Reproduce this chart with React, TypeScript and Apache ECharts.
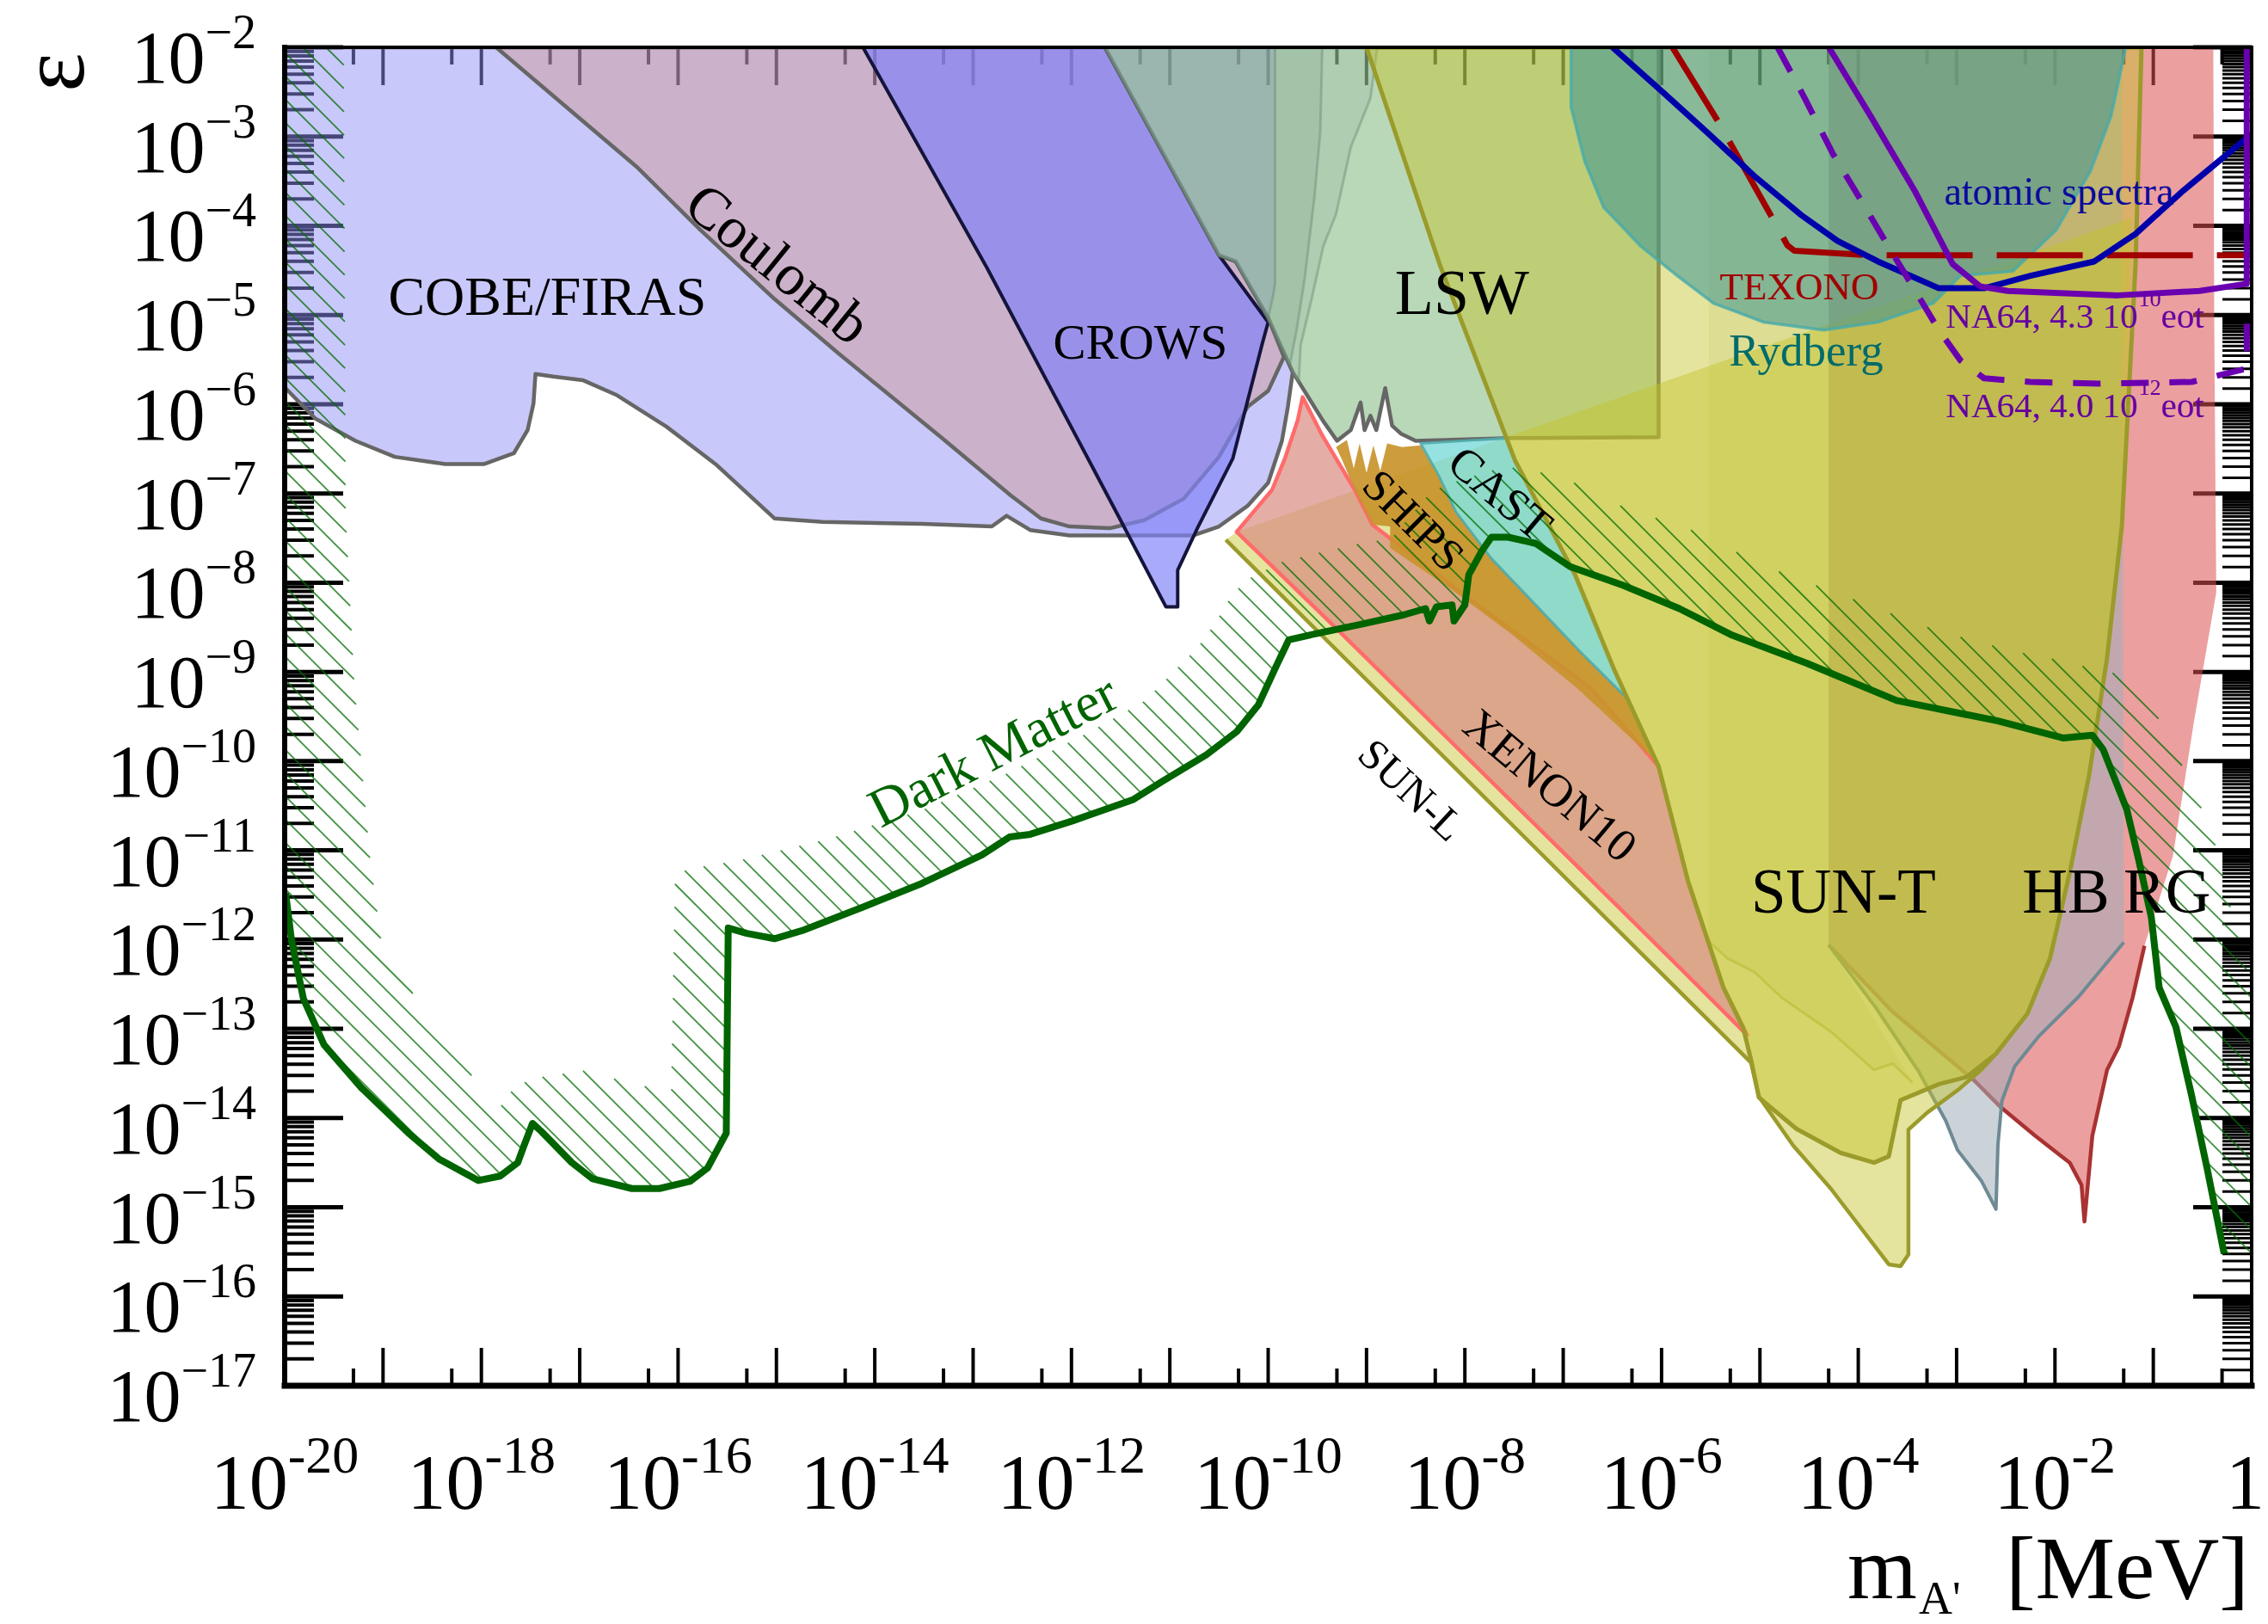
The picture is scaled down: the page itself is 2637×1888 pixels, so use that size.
import React, { useEffect, useRef } from "react";
import * as echarts from "echarts";

type P = [number, number];
const FONT = "Liberation Serif";

// ---------- data: [log10(m_A' / MeV), log10(epsilon)] ----------
const COBE_FIRAS: P[] = [[-20,-2],[-11.66,-2],[-10.50,-4.33],[-10.33,-4.40],[-10.00,-5.03],[-9.75,-5.64],[-9.80,-6.03],[-9.86,-6.41],[-10.00,-6.88],[-10.21,-7.14],[-10.50,-7.37],[-10.76,-7.47],[-12.02,-7.47],[-12.42,-7.41],[-12.66,-7.25],[-12.81,-7.37],[-13.52,-7.34],[-14.53,-7.32],[-15.02,-7.28],[-15.62,-6.67],[-16.12,-6.25],[-16.62,-5.90],[-16.97,-5.73],[-17.27,-5.69],[-17.45,-5.66],[-17.47,-5.99],[-17.53,-6.29],[-17.67,-6.55],[-17.97,-6.67],[-18.37,-6.67],[-18.88,-6.59],[-19.28,-6.41],[-19.69,-6.16],[-20,-5.81]];
const COULOMB: P[] = [[-17.85,-2],[-11.66,-2],[-10.50,-4.33],[-10.33,-4.40],[-10.00,-5.03],[-9.84,-5.47],[-10.00,-5.85],[-10.21,-6.03],[-10.50,-6.59],[-10.86,-7.06],[-11.26,-7.30],[-11.61,-7.39],[-12.02,-7.37],[-12.31,-7.28],[-12.62,-7.02],[-13.37,-6.33],[-14.37,-5.43],[-15.02,-4.82],[-15.77,-4.05],[-16.41,-3.35]];
const CROWS: P[] = [[-14.12,-2],[-12.86,-4.47],[-11.51,-7.28],[-11.04,-8.27],[-10.92,-8.27],[-10.92,-7.86],[-10.72,-7.39],[-10.36,-6.61],[-10.06,-5.32],[-10.00,-5.08],[-10.50,-4.33],[-11.66,-2]];
const LSW: P[] = [[-11.66,-2],[-10.50,-4.33],[-10.33,-4.40],[-10.00,-5.03],[-9.75,-5.64],[-9.44,-6.19],[-9.30,-6.41],[-9.16,-6.29],[-9.06,-5.98],[-9.02,-6.29],[-8.96,-6.13],[-8.90,-6.29],[-8.81,-5.82],[-8.74,-6.24],[-8.65,-6.33],[-8.50,-6.41],[-7.52,-6.38],[-6.03,-6.37],[-6.03,-2]];
const BAND_C: P[] = [[-11.66,-2],[-10.50,-4.33],[-10.33,-4.40],[-10.00,-5.03],[-9.75,-5.64],[-9.69,-5.76],[-9.67,-5.34],[-9.55,-4.78],[-9.44,-4.23],[-9.31,-3.87],[-9.16,-3.12],[-8.96,-2.57],[-8.89,-2]];
const BAND_B: P[] = [[-11.66,-2],[-10.50,-4.33],[-10.33,-4.40],[-10.00,-5.03],[-9.78,-5.56],[-9.71,-5.16],[-9.63,-4.60],[-9.53,-3.68],[-9.47,-2.94],[-9.45,-2]];
const BAND_A: P[] = [[-11.66,-2],[-10.50,-4.33],[-10.33,-4.40],[-10.00,-5.03],[-9.95,-4.79],[-9.93,-4.65],[-9.93,-2]];
const RG: P[] = [[-4.30,-2],[-4.30,-12.06],[-3.66,-12.80],[-2.82,-13.58],[-2.55,-13.88],[-2.20,-14.20],[-1.85,-14.50],[-1.73,-14.75],[-1.70,-15.16],[-1.62,-14.20],[-1.47,-13.46],[-1.35,-13.20],[-1.21,-12.65],[-1.09,-12.07],[-0.80,-11.06],[-0.59,-9.58],[-0.36,-8.11],[-0.38,-5.16],[-0.39,-2]];
const HB: P[] = [[-4.30,-2],[-4.30,-12.06],[-3.83,-12.75],[-3.39,-13.47],[-3.11,-14.03],[-2.99,-14.36],[-2.75,-14.70],[-2.60,-15.02],[-2.58,-14.30],[-2.54,-13.81],[-2.41,-13.42],[-2.17,-13.09],[-1.76,-12.64],[-1.30,-12.03],[-1.32,-2]];
const P_BAND: P[] = [[-5.52,-2],[-5.52,-12.02],[-5.33,-12.21],[-5.06,-12.36],[-4.78,-12.65],[-4.28,-13.03],[-3.84,-13.46],[-3.65,-13.39],[-3.45,-13.60],[-4.30,-12.06],[-4.30,-2]];
const SUN_L: P[] = [[-10.43,-7.52],[-5.09,-13.38],[-5.01,-13.76],[-4.66,-14.31],[-4.28,-14.79],[-3.69,-15.64],[-3.57,-15.66],[-3.49,-15.53],[-3.49,-14.13],[-3.30,-13.94],[-2.98,-13.68],[-2.75,-13.46],[-2.60,-13.28],[-2.28,-12.83],[-2.05,-12.21],[-1.85,-11.25],[-1.65,-10.14],[-1.47,-8.84],[-1.32,-7.37],[-1.22,-3.91],[-10.32,-7.43]];
const XENON10: P[] = [[-9.65,-5.92],[-9.45,-6.35],[-9.12,-6.96],[-8.94,-7.35],[-8.03,-8.12],[-6.72,-9.18],[-6.03,-10.06],[-5.73,-11.35],[-5.37,-12.54],[-5.13,-13.07],[-5.83,-12.30],[-6.81,-11.23],[-7.59,-10.38],[-8.40,-9.50],[-9.30,-8.52],[-10.32,-7.43],[-10.19,-7.26],[-9.96,-6.96],[-9.83,-6.61],[-9.70,-6.18]];
const SHIPS: P[] = [[-9.31,-6.48],[-9.20,-6.40],[-9.13,-6.72],[-9.07,-6.44],[-9.00,-6.77],[-8.93,-6.46],[-8.86,-6.75],[-8.79,-6.44],[-8.64,-6.48],[-8.45,-6.46],[-8.27,-6.79],[-8.09,-7.21],[-7.73,-7.73],[-7.28,-8.25],[-6.84,-8.76],[-6.33,-9.32],[-6.19,-9.66],[-6.06,-10.00],[-6.84,-9.20],[-7.51,-8.59],[-8.13,-8.08],[-8.76,-7.61],[-8.76,-7.37],[-8.94,-7.35],[-9.12,-6.96],[-9.25,-6.62]];
const CAST: P[] = [[-8.45,-6.44],[-7.58,-6.38],[-7.49,-6.63],[-6.88,-7.91],[-6.48,-8.98],[-6.31,-9.41],[-6.33,-9.32],[-6.84,-8.76],[-7.28,-8.25],[-7.73,-7.73],[-8.09,-7.21],[-8.27,-6.79]];
const SUN_T: P[] = [[-9.00,-2],[-8.26,-4.42],[-7.49,-6.63],[-6.88,-7.91],[-6.48,-8.98],[-6.03,-10.06],[-5.73,-11.35],[-5.37,-12.54],[-5.17,-12.99],[-5.09,-13.35],[-5.01,-13.77],[-4.63,-14.12],[-4.18,-14.39],[-3.84,-14.50],[-3.69,-14.43],[-3.57,-13.80],[-3.18,-13.62],[-2.90,-13.54],[-2.60,-13.28],[-2.28,-12.83],[-2.05,-12.21],[-1.85,-11.25],[-1.65,-10.14],[-1.47,-8.84],[-1.32,-7.37],[-1.18,-4.42],[-1.12,-2]];
const RYDBERG: P[] = [[-6.92,-2],[-6.92,-2.67],[-6.78,-3.28],[-6.59,-3.79],[-6.22,-4.22],[-5.84,-4.56],[-5.47,-4.87],[-4.96,-5.08],[-4.35,-5.17],[-3.80,-5.08],[-3.24,-4.87],[-2.96,-4.56],[-2.43,-4.51],[-1.99,-4.05],[-1.64,-3.39],[-1.43,-2.77],[-1.28,-2]];
const TEXONO: P[] = [[-5.89,-2],[-5.42,-2.84],[-4.86,-3.94],[-4.72,-4.22],[-4.65,-4.28],[-3.88,-4.33],[0,-4.33]];
const ATOMIC_SPECTRA: P[] = [[-6.50,-2],[-5.99,-2.50],[-5.52,-2.97],[-5.06,-3.44],[-4.58,-3.88],[-4.21,-4.17],[-3.80,-4.40],[-3.18,-4.70],[-2.72,-4.70],[-2.25,-4.56],[-1.60,-4.40],[-1.18,-4.09],[-0.71,-3.62],[-0.24,-3.19],[0,-2.97]];
const NA64_43E10: P[] = [[-4.30,-2],[-3.88,-2.76],[-3.42,-3.62],[-3.04,-4.43],[-2.76,-4.68],[-2.48,-4.73],[-1.36,-4.78],[-0.53,-4.73],[-0.05,-4.65],[-0.05,-2]];
const NA64_40E12: P[] = [[-4.82,-2],[-4.54,-2.58],[-4.26,-3.19],[-3.98,-3.70],[-3.70,-4.22],[-3.42,-4.73],[-3.18,-5.17],[-2.96,-5.51],[-2.72,-5.71],[-2.25,-5.75],[-1.55,-5.77],[-0.61,-5.75],[-0.05,-5.60],[-0.05,-4.94]];
const DARK_MATTER: P[] = [[-19.99,-11.48],[-19.93,-12.01],[-19.81,-12.66],[-19.60,-13.18],[-19.23,-13.65],[-18.74,-14.17],[-18.43,-14.46],[-18.03,-14.70],[-17.81,-14.65],[-17.63,-14.50],[-17.57,-14.32],[-17.48,-14.06],[-17.39,-14.15],[-17.08,-14.50],[-16.87,-14.68],[-16.47,-14.79],[-16.19,-14.79],[-15.88,-14.71],[-15.70,-14.56],[-15.51,-14.17],[-15.49,-11.87],[-15.30,-11.93],[-15.02,-11.99],[-14.74,-11.90],[-14.13,-11.64],[-13.52,-11.37],[-12.91,-11.05],[-12.63,-10.85],[-12.42,-10.82],[-11.99,-10.67],[-11.37,-10.43],[-11.08,-10.23],[-10.63,-9.93],[-10.32,-9.67],[-10.10,-9.37],[-9.92,-8.94],[-9.79,-8.64],[-9.51,-8.57],[-9.07,-8.47],[-8.62,-8.36],[-8.40,-8.29],[-8.36,-8.43],[-8.29,-8.27],[-8.13,-8.25],[-8.11,-8.43],[-8.00,-8.25],[-7.96,-7.91],[-7.83,-7.65],[-7.73,-7.49],[-7.56,-7.49],[-7.28,-7.56],[-6.93,-7.82],[-6.39,-8.03],[-5.82,-8.29],[-5.28,-8.59],[-4.53,-8.90],[-3.61,-9.32],[-2.58,-9.55],[-1.92,-9.74],[-1.62,-9.71],[-1.51,-9.87],[-1.27,-10.54],[-1.15,-11.10],[-1.02,-11.75],[-0.94,-12.54],[-0.77,-12.98],[-0.61,-13.75],[-0.45,-14.58],[-0.28,-15.52]];
const HATCH_OUTER: P[] = [[-19.40,-2],[-19.38,-7.25],[-19.29,-9.18],[-19.13,-11.11],[-19.00,-12.17],[-18.74,-12.55],[-18.43,-12.94],[-18.18,-13.33],[-18.00,-13.76],[-17.84,-13.92],[-17.65,-13.63],[-17.39,-13.54],[-16.96,-13.47],[-16.51,-13.60],[-16.07,-13.71],[-16.03,-11.26],[-15.85,-11.20],[-15.37,-11.11],[-14.50,-10.88],[-13.52,-10.55],[-12.66,-10.14],[-11.81,-9.67],[-11.25,-9.32],[-10.99,-9.03],[-10.72,-8.73],[-10.55,-8.47],[-10.36,-8.12],[-10.19,-7.95],[-9.87,-7.77],[-9.43,-7.65],[-8.98,-7.54],[-8.76,-7.52],[-8.40,-7.05],[-8.22,-6.91],[-7.60,-6.70],[-7.33,-6.74],[-6.98,-6.83],[-6.44,-7.13],[-5.99,-7.30],[-5.54,-7.47],[-5.06,-7.77],[-4.53,-7.99],[-4.16,-8.14],[-3.73,-8.32],[-3.32,-8.49],[-2.99,-8.60],[-2.58,-8.72],[-2.21,-8.82],[-1.88,-8.88],[-1.56,-8.99],[-1.22,-9.04],[-0.81,-9.77],[-0.61,-10.32],[-0.42,-10.72],[-0.18,-11.79],[0,-12.55],[0,-15.54]];

// axis tick positions (decades and sub-decades) and labelled exponents
const X_MAJOR_TICKS: number[] = [];
for (let d = -20; d <= 0; d++) X_MAJOR_TICKS.push(d);
const X_MINOR_TICKS = X_MAJOR_TICKS.slice(0, -1).map((d) => d + Math.log10(5));
const X_LABEL_EXPONENTS = [-20, -18, -16, -14, -12, -10, -8, -6, -4, -2, 0];
const Y_MAJOR_TICKS: number[] = [];
for (let d = -17; d <= -2; d++) Y_MAJOR_TICKS.push(d);
const Y_LABEL_EXPONENTS = Y_MAJOR_TICKS;
const Y_MINOR_TICKS: number[] = [];
const Y_MINOR_TICKS_RIGHT: number[] = [];
for (let d = -17; d < -2; d++) {
  for (let k = 2; k <= 9; k++) Y_MINOR_TICKS.push(d + Math.log10(k));
  for (let k = 1.5; k < 10; k += 0.5) Y_MINOR_TICKS_RIGHT.push(d + Math.log10(k));
}

// ---------- in-plot labels (layout) ----------
const LABELS = [
  { t: "COBE/FIRAS", x: -17.33, y: -4.79, s: 64, r: 0, c: "#000" },
  { t: "Coulomb", x: -14.98, y: -4.42, s: 68, r: -39, c: "#000" },
  { t: "CROWS", x: -11.30, y: -5.30, s: 57, r: 0, c: "#000" },
  { t: "LSW", x: -8.03, y: -4.75, s: 74, r: 0, c: "#000" },
  { t: "CAST", x: -7.64, y: -7.0, s: 54, r: -40, c: "#000" },
  { t: "SHIPS", x: -8.52, y: -7.30, s: 52, r: -45, c: "#000" },
  { t: "XENON10", x: -7.13, y: -10.27, s: 54, r: -40, c: "#000" },
  { t: "SUN-L", x: -8.54, y: -10.32, s: 50, r: -43, c: "#000" },
  { t: "SUN-T", x: -4.15, y: -11.46, s: 73, r: 0, c: "#000" },
  { t: "HB", x: -1.89, y: -11.46, s: 73, r: 0, c: "#000" },
  { t: "RG", x: -0.86, y: -11.46, s: 73, r: 0, c: "#000" },
  { t: "Dark Matter", x: -12.80, y: -9.88, s: 64, r: 27, c: "#006400" },
  { t: "atomic spectra", x: -1.96, y: -3.61, s: 46, r: 0, c: "#0a0a9e" },
  { t: "TEXONO", x: -4.60, y: -4.68, s: 45, r: 0, c: "#a00000" },
  { t: "Rydberg", x: -4.53, y: -5.39, s: 53, r: 0, c: "#006b6b" },
];
const NA64_LABELS = [
  { main: "NA64, 4.3 10", sup: "10", tail: "eot", x: -3.11, y: -5.01 },
  { main: "NA64, 4.0 10", sup: "12", tail: "eot", x: -3.11, y: -6.01 },
];

function buildOption(): any {
  const base = { type: "custom", coordinateSystem: "cartesian2d", silent: true, data: [[-10, -10]] };
  const area = (pts: P[], fill: string, stroke = "none", lineWidth = 0) => ({
    ...base,
    clip: true,
    renderItem: (_p: any, api: any) => ({
      type: "polygon",
      shape: { points: pts.map((q) => api.coord(q)) },
      style: { fill, stroke, lineWidth, lineJoin: "round" },
    }),
  });
  const curve = (pts: P[], stroke: string, lineWidth: number, lineDash?: number[]) => ({
    ...base,
    clip: true,
    renderItem: (_p: any, api: any) => ({
      type: "polyline",
      shape: { points: pts.map((q) => api.coord(q)) },
      style: { fill: "none", stroke, lineWidth, lineDash: lineDash || null, lineJoin: "round" },
    }),
  });
  const txt = (x: number, y: number, text: string, size: number, align: string, fill = "#000", rotation = 0) => ({
    type: "text",
    x,
    y,
    rotation,
    style: { text, fontFamily: FONT, fontSize: size, fill, align, verticalAlign: "middle" },
  });

  const ticks = {
    ...base,
    clip: false,
    renderItem: (_p: any, api: any) => {
      const [x0, yB] = api.coord([-20, -17]);
      const [x1, yT] = api.coord([0, -2]);
      const ch: any[] = [];
      const add = (a: number, b: number, c: number, d: number, w: number) =>
        ch.push({ type: "line", shape: { x1: a, y1: b, x2: c, y2: d }, style: { stroke: "#000", lineWidth: w } });
      X_MAJOR_TICKS.forEach((v) => {
        const x = api.coord([v, -17])[0];
        add(x, yB, x, yB - 44, 4);
        add(x, yT, x, yT + 44, 4);
      });
      X_MINOR_TICKS.forEach((v) => {
        const x = api.coord([v, -17])[0];
        add(x, yB, x, yB - 20, 4);
        add(x, yT, x, yT + 20, 4);
      });
      Y_MAJOR_TICKS.forEach((v) => {
        const y = api.coord([-20, v])[1];
        add(x0, y, x0 + 68, y, 5);
        add(x1, y, x1 - 68, y, 5);
      });
      Y_MINOR_TICKS.forEach((v) => {
        const y = api.coord([-20, v])[1];
        add(x0, y, x0 + 34, y, 4);
      });
      Y_MINOR_TICKS_RIGHT.forEach((v) => {
        const y = api.coord([-20, v])[1];
        add(x1, y, x1 - 34, y, 3);
      });
      return { type: "group", children: ch };
    },
  };

  // tick labels "10^n" drawn at the axis' own tick positions
  const tickLabels = {
    ...base,
    clip: false,
    renderItem: (_p: any, api: any) => {
      const [x0, yB] = api.coord([-20, -17]);
      const ch: any[] = [];
      Y_LABEL_EXPONENTS.forEach((v) => {
        const y = api.coord([-20, v])[1];
        const e = String(-v);
        const sup = "\u2212" + e;
        const wSup = 56 * (0.564 + 0.5 * e.length);
        ch.push(txt(x0 - 33, y - 18, sup, 56, "right"));
        ch.push(txt(x0 - 33 - wSup, y + 12, "10", 86, "right"));
      });
      X_LABEL_EXPONENTS.forEach((v) => {
        const x = api.coord([v, -17])[0];
        if (v === 0) {
          ch.push(txt(x + 15, yB + 112, "1", 90, "right"));
          return;
        }
        const e = String(-v);
        const sup = "-" + e;
        const wSup = 62 * (0.333 + 0.5 * e.length);
        const total = 90 + wSup;
        ch.push(txt(x - total / 2, yB + 112, "10", 90, "left"));
        ch.push(txt(x - total / 2 + 90, yB + 80, sup, 62, "left"));
      });
      return { type: "group", children: ch };
    },
  };

  const hatchPoly: P[] = [...HATCH_OUTER, ...DARK_MATTER.slice().reverse(), [-20, -11.48], [-20, -2]];
  const hatch = {
    ...base,
    clip: true,
    renderItem: (_p: any, api: any) => {
      const poly = hatchPoly.map((q) => api.coord(q));
      const bs = poly.map(([x, y]: number[]) => y - x);
      const bmin = Math.min(...bs);
      const bmax = Math.max(...bs);
      const step = 27;
      const ch: any[] = [];
      for (let b = Math.ceil(bmin / step) * step; b <= bmax; b += step) {
        const xs: number[] = [];
        for (let i = 0; i < poly.length; i++) {
          const [xa, ya] = poly[i];
          const [xb, yb] = poly[(i + 1) % poly.length];
          const g1 = ya - xa - b;
          const g2 = yb - xb - b;
          if (g1 > 0 !== g2 > 0) {
            const t = g1 / (g1 - g2);
            xs.push(xa + t * (xb - xa));
          }
        }
        xs.sort((p, q) => p - q);
        for (let k = 0; k + 1 < xs.length; k += 2) {
          ch.push({
            type: "line",
            shape: { x1: xs[k], y1: xs[k] + b, x2: xs[k + 1], y2: xs[k + 1] + b },
            style: { stroke: "rgba(0,110,0,0.75)", lineWidth: 1.8 },
          });
        }
      }
      return { type: "group", children: ch };
    },
  };

  const labels = {
    ...base,
    clip: false,
    renderItem: (_p: any, api: any) => {
      const ch: any[] = LABELS.map((l) => {
        const [x, y] = api.coord([l.x, l.y]);
        return txt(x, y, l.t, l.s, "center", l.c, (l.r * Math.PI) / 180);
      });
      NA64_LABELS.forEach((l) => {
        const [x, y] = api.coord([l.x, l.y]);
        const wMain = 41 * 5.444;
        ch.push(txt(x, y, l.main, 41, "left", "#6600a0"));
        ch.push(txt(x + wMain + 1, y - 20, l.sup, 26, "left", "#6600a0"));
        ch.push(txt(x + wMain + 27, y, l.tail, 41, "left", "#6600a0"));
      });
      return { type: "group", children: ch };
    },
  };

  const frame = {
    ...base,
    clip: false,
    renderItem: (_p: any, api: any) => {
      const [x0, yB] = api.coord([-20, -17]);
      const [x1, yT] = api.coord([0, -2]);
      const ln = (a: number, b: number, c: number, d: number, w: number) => ({
        type: "line",
        shape: { x1: a, y1: b, x2: c, y2: d },
        style: { stroke: "#000", lineWidth: w, lineCap: "square" },
      });
      return {
        type: "group",
        children: [ln(x0, yT, x1, yT, 4), ln(x1, yT, x1, yB, 4), ln(x0, yB, x1, yB, 7), ln(x0, yT, x0, yB, 6)],
      };
    },
  };

  const edge = "#666666";
  const hiddenAxis = {
    type: "value",
    axisLine: { show: false },
    axisTick: { show: false },
    axisLabel: { show: false },
    splitLine: { show: false },
  };
  return {
    animation: false,
    backgroundColor: "#ffffff",
    textStyle: { fontFamily: FONT },
    grid: { left: 331, right: 19, top: 55, bottom: 277, containLabel: false },
    xAxis: { ...hiddenAxis, min: -20, max: 0, interval: 2 },
    yAxis: { ...hiddenAxis, min: -17, max: -2, interval: 1 },
    graphic: [
      { type: "text", x: 60, y: 84, rotation: Math.PI / 2, style: { text: "\u03b5", fontFamily: FONT, fontSize: 108, fill: "#000", align: "center", verticalAlign: "middle" } },
      { type: "text", x: 2229, y: 1822, style: { text: "m", fontFamily: FONT, fontSize: 104, fill: "#000", align: "right", verticalAlign: "middle" } },
      { type: "text", x: 2231, y: 1858, style: { text: "A'", fontFamily: FONT, fontSize: 54, fill: "#000", align: "left", verticalAlign: "middle" } },
      { type: "text", x: 2615, y: 1822, style: { text: "[MeV]", fontFamily: FONT, fontSize: 104, fill: "#000", align: "right", verticalAlign: "middle" } },
    ],
    series: [
      ticks,
      area(COBE_FIRAS, "rgba(143,143,245,0.49)", edge, 4.5),
      area(COULOMB, "rgba(207,136,113,0.36)", edge, 4.5),
      area(CROWS, "rgba(130,130,248,0.68)", "#14143c", 4),
      area(LSW, "rgba(113,177,113,0.5)", edge, 4.5),
      area(BAND_C, "rgba(158,187,161,0.35)", "rgba(100,130,110,0.4)", 3),
      area(BAND_B, "rgba(141,177,159,0.35)", "rgba(100,130,110,0.4)", 3),
      area(BAND_A, "rgba(140,156,187,0.35)", "rgba(100,130,110,0.4)", 3),
      area(RG, "rgba(220,80,80,0.55)"),
      curve(RG.slice(1, 14), "#a83232", 4.5),
      area(HB, "rgba(160,175,185,0.55)"),
      curve(HB.slice(1, 14), "#6e8a94", 4),
      area(P_BAND, "rgba(140,140,60,0.1)"),
      curve(P_BAND.slice(1, 9), "rgba(150,150,60,0.5)", 3),
      area(SUN_L, "rgba(195,195,40,0.45)"),
      curve(SUN_L.slice(0, 13), "#9b9b2b", 4.5),
      area(XENON10, "rgba(216,140,130,0.7)", "#ff6b6b", 4.5),
      area(SHIPS, "rgba(200,148,45,0.92)"),
      area(CAST, "rgba(115,215,215,0.75)", "rgba(80,170,170,0.9)", 3),
      area(SUN_T, "rgba(195,195,40,0.45)", "#9b9b2b", 5),
      area(RYDBERG, "rgba(60,150,150,0.55)", "rgba(70,170,170,0.8)", 3.5),
      hatch,
      curve(TEXONO, "#a00000", 7, [100, 28]),
      curve(ATOMIC_SPECTRA, "#0000aa", 7),
      curve(NA64_43E10, "#6a00b0", 7),
      curve(NA64_40E12, "#6a00b0", 7, [32, 24]),
      curve(DARK_MATTER, "#006400", 8),
      labels,
      frame,
      tickLabels,
    ],
  };
}

export default function App() {
  const ref = useRef<HTMLDivElement>(null);
  useEffect(() => {
    document.body.style.margin = "0";
    document.body.style.overflow = "hidden";
    const chart = echarts.init(ref.current as HTMLDivElement, null, { renderer: "svg" });
    chart.setOption(buildOption());
    return () => chart.dispose();
  }, []);
  return <div ref={ref} style={{ width: 2637, height: 1888 }} />;
}
